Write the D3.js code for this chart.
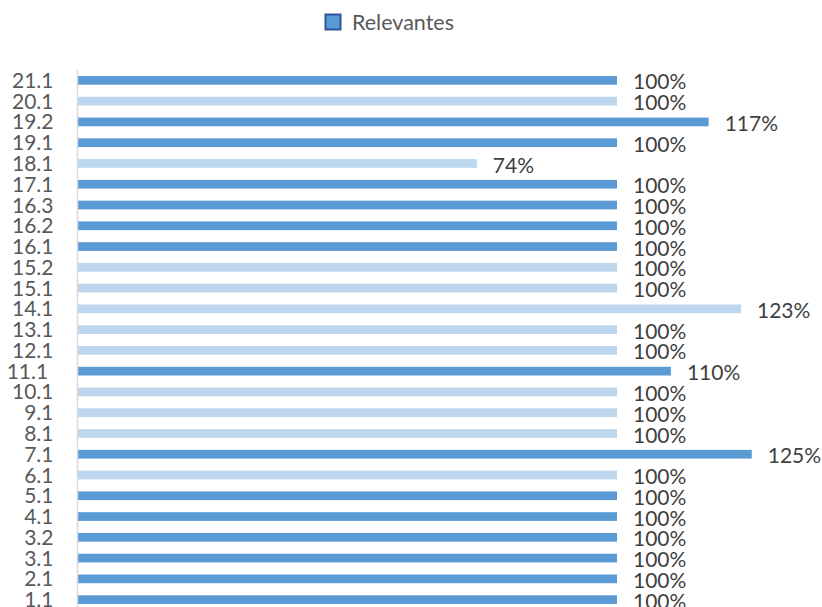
<!DOCTYPE html>
<html>
<head>
<meta charset="utf-8">
<script src="https://cdn.jsdelivr.net/npm/d3@7"></script>
<style>
  html, body { margin: 0; padding: 0; background: #fff; }
  svg { display: block; }
</style>
</head>
<body>
<svg id="chart" width="822" height="607"></svg>
<script>
// Categories, top to bottom
const categories = ["21.1","20.1","19.2","19.1","18.1","17.1","16.3","16.2","16.1","15.2","15.1","14.1","13.1","12.1","11.1 ","10.1","9.1","8.1","7.1","6.1","5.1","4.1","3.2","3.1","2.1","1.1"];
// Share of relevant items, percent
const values = [100,100,117,100,74,100,100,100,100,100,100,123,100,100,110,100,100,100,125,100,100,100,100,100,100,100];
// Shade group per bar: 1 = dark, 0 = light
const shade = [1,0,1,1,0,1,1,1,1,0,0,0,0,0,1,0,0,0,1,0,1,1,1,1,1,1];
const seriesName = "Relevantes";

const rows = categories.map((c, i) => ({ cat: c, value: values[i], dark: shade[i] === 1 }));

const svg = d3.select("#chart");
const font = "Lato, 'Open Sans', sans-serif";
const margin = { top: 70, left: 78 };
const plotBottom = 610;

const x = d3.scaleLinear().domain([0, 100]).range([margin.left, margin.left + 539]);
const y = d3.scaleBand().domain(categories).range([margin.top, plotBottom]).paddingInner(0.58).paddingOuter(0.29);

// Bars
svg.append("g").selectAll("rect").data(rows).join("rect")
  .attr("x", x(0))
  .attr("y", d => y(d.cat))
  .attr("width", d => x(d.value) - x(0))
  .attr("height", y.bandwidth())
  .attr("fill", d => d.dark ? "#5b9bd5" : "#bdd7ee");

// Category axis
const yAxis = svg.append("g")
  .attr("transform", `translate(${x(0) - 0.5},0)`)
  .call(d3.axisLeft(y).tickSize(0).tickPadding(24));
yAxis.select(".domain").attr("stroke", "#d9d9d9").attr("stroke-width", 1.5)
  .attr("d", `M0,${margin.top}V${plotBottom}`);
yAxis.selectAll("text")
  .attr("font-family", font)
  .attr("font-size", 21)
  .attr("fill", "#595959")
  .attr("dy", "0.36em")
  .style("white-space", "pre");

// Value labels
svg.append("g").selectAll("text").data(rows).join("text")
  .attr("x", d => x(d.value) + 16)
  .attr("y", d => y(d.cat) + y.bandwidth() / 2 + 1.5)
  .attr("dy", "0.36em")
  .attr("font-family", font)
  .attr("font-size", 21)
  .attr("fill", "#404040")
  .text(d => d.value + "%");

// Legend
const legend = svg.append("g").attr("transform", "translate(325.5,14.5)");
legend.append("rect")
  .attr("x", 0).attr("y", 0).attr("width", 15).attr("height", 15)
  .attr("fill", "#5b9bd5").attr("stroke", "#2f5597").attr("stroke-width", 2);
legend.append("text")
  .attr("x", 26.5).attr("y", 8).attr("dy", "0.36em")
  .attr("font-family", font).attr("font-size", 21.5)
  .attr("fill", "#595959")
  .text(seriesName);
</script>
</body>
</html>
